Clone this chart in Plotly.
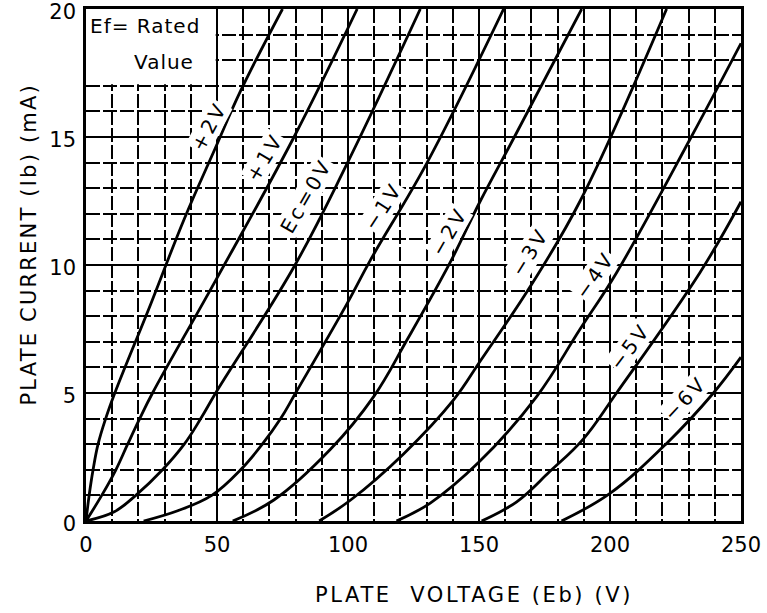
import plotly.graph_objects as go

# ---- data (plate voltage V, plate current mA) ----
grid_biases = ["+2V", "+1V", "Ec=0V", "−1V", "−2V", "−3V", "−4V", "−5V", "−6V"]

v_p2 = [0, 1.2, 2.7, 4.6, 7.5, 11, 24.8, 37.5, 49.5, 59, 75]
i_p2 = [0, 1, 2, 3, 4, 5, 8.5, 11.8, 14.6, 16.8, 20]

v_p1 = [0, 6, 11.4, 15.9, 20.5, 25.4, 49.5, 79.4, 103.5]
i_p1 = [0, 1, 2, 3, 4, 5, 9.4, 15, 20]

v_0 = [0, 10.8, 19, 29.2, 37.5, 43.8, 49.5, 79.4, 99.7, 127.6]
i_0 = [0, 0.36, 1, 2, 3, 4, 5, 9.93, 13.97, 20]

v_m1 = [22, 35, 48, 59, 67.3, 74.3, 80, 99.7, 108.6, 130.2, 159.4]
i_m1 = [0, 0.4, 1, 2, 3, 4, 5, 8.5, 10.2, 14, 20]

v_m2 = [56, 71.7, 93.3, 109.8, 122.5, 139, 150.5, 163.5, 189.2]
i_m2 = [0, 0.82, 2.8, 4.86, 7.07, 10.1, 12.5, 15, 20]

v_m3 = [89, 101, 121, 140.3, 150.5, 169.5, 188.6, 221.6]
i_m3 = [0, 0.82, 2.6, 4.73, 6.25, 9.15, 12.5, 20]

v_m4 = [118.5, 131.4, 150, 172, 188.6, 202.5, 231, 250]
i_m4 = [0, 0.7, 2.3, 4.86, 7.5, 9.7, 15, 18.66]

v_m5 = [151, 164.4, 177, 189.8, 202.5, 234.3, 250]
i_m5 = [0, 0.75, 1.93, 3.2, 5, 9.7, 12.47]

v_m6 = [181.5, 200, 221.6, 239.4, 250]
i_m6 = [0, 1.08, 3.03, 4.99, 6.4]

x_ticks = [0, 50, 100, 150, 200, 250]
y_ticks = [0, 5, 10, 15, 20]

series_v = [v_p2, v_p1, v_0, v_m1, v_m2, v_m3, v_m4, v_m5, v_m6]
series_i = [i_p2, i_p1, i_0, i_m1, i_m2, i_m3, i_m4, i_m5, i_m6]

FONT = "DejaVu Sans"

fig = go.Figure()
for name, vv, ii in zip(grid_biases, series_v, series_i):
    fig.add_trace(go.Scatter(x=vv, y=ii, mode="lines", name=name,
                             line=dict(color="black", width=2.8, shape="spline", smoothing=1.1),
                             hoverinfo="skip"))

# label placement (voltage, current, angle) for each curve
label_pos = [(46.8, 15.4, -62), (68.4, 14.2, -59), (84.0, 12.7, -60),
             (113.5, 12.3, -57), (138.5, 11.3, -60), (169.5, 10.5, -58),
             (194.3, 9.6, -55), (207.5, 6.8, -53), (228.8, 4.8, -47)]
annotations = []
for name, (lx, ly, ang) in zip(grid_biases, label_pos):
    annotations.append(dict(x=lx, y=ly, xref="x", yref="y", showarrow=False,
                            text='<span style="letter-spacing:3px">%s</span>' % name,
                            textangle=ang, bgcolor="white", borderpad=0,
                            font=dict(family=FONT, size=20, color="black")))

annotations += [
    dict(x=0.6, y=19.34, xref="x", yref="y", xanchor="left", yanchor="middle",
         showarrow=False, text='<span style="letter-spacing:1px">Ef= Rated</span>',
         font=dict(family=FONT, size=20, color="black")),
    dict(x=42.0, y=17.93, xref="x", yref="y", xanchor="right", yanchor="middle",
         showarrow=False, text='<span style="letter-spacing:1px">Value</span>',
         font=dict(family=FONT, size=20, color="black")),
    dict(x=-0.087, y=0.54, xref="paper", yref="paper", xanchor="center", yanchor="middle",
         showarrow=False, textangle=-90,
         text='<span style="letter-spacing:2.2px">PLATE CURRENT (Ib) (mA)</span>',
         font=dict(family=FONT, size=21, color="black")),
    dict(x=0.592, y=-0.145, xref="paper", yref="paper", xanchor="center", yanchor="middle",
         showarrow=False,
         text='<span style="letter-spacing:2.6px">PLATE&nbsp; VOLTAGE (Eb) (V)</span>',
         font=dict(family=FONT, size=21, color="black")),
]

fig.add_shape(type="rect", xref="x", yref="y", x0=0, x1=49.5, y0=17.06, y1=20,
              fillcolor="white", line=dict(width=0), layer="between")

axis_common = dict(showgrid=True, gridcolor="black", gridwidth=2,
                   showline=True, linecolor="black", linewidth=2.5, mirror=True,
                   ticks="", zeroline=False, fixedrange=True, automargin=False,
                   ticklabeloverflow="allow",
                   tickfont=dict(family=FONT, size=21, color="black"))

fig.update_xaxes(range=[0, 250], tickvals=x_ticks, ticklabelstandoff=3,
                 minor=dict(dtick=10, tick0=0, showgrid=True, gridcolor="black",
                            gridwidth=1.5, griddash="14px,3px"),
                 **axis_common)
fig.update_yaxes(range=[0, 20], tickvals=y_ticks, ticklabelstandoff=3,
                 ticklabelshift=3,
                 minor=dict(dtick=1, tick0=0, showgrid=True, gridcolor="black",
                            gridwidth=1.5, griddash="14px,3px"),
                 **axis_common)

fig.update_layout(width=767, height=613, margin=dict(l=86, r=26, t=9, b=92),
                  plot_bgcolor="white", paper_bgcolor="white", showlegend=False,
                  annotations=annotations)

fig.write_html("out.html", config={"displayModeBar": False},
               post_script="document.body.style.margin='0';document.body.style.overflow='hidden';")
